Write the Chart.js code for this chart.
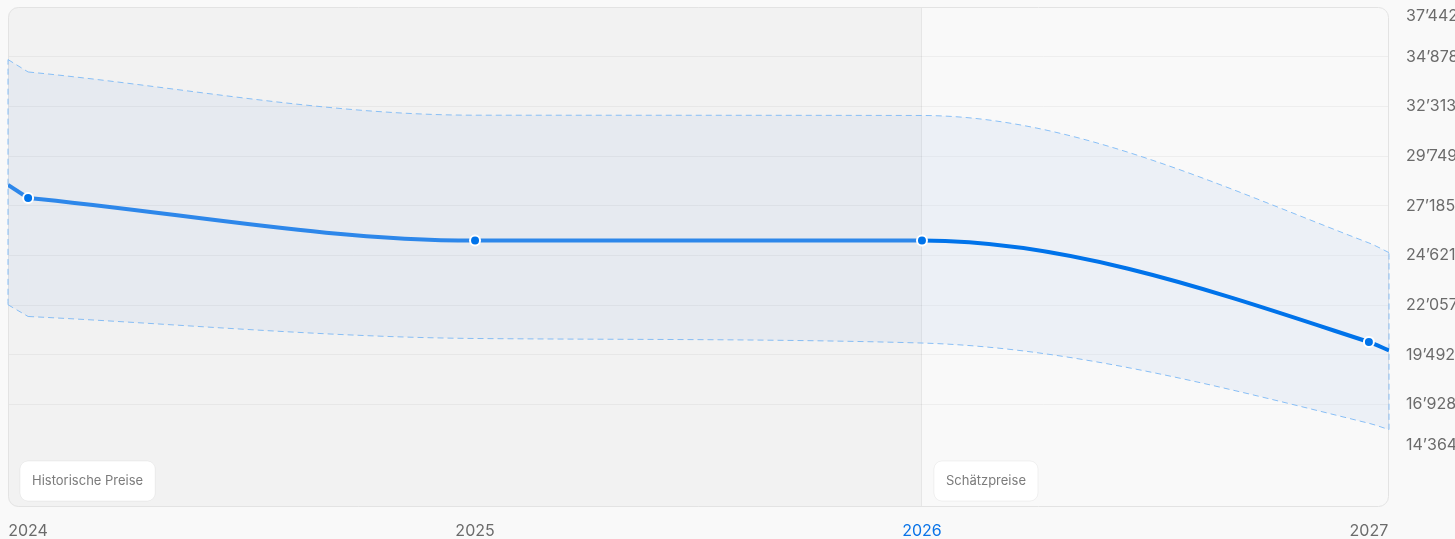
<!DOCTYPE html>
<html lang="de">
<head>
<meta charset="utf-8">
<title>Preisentwicklung</title>
<script src="https://cdn.jsdelivr.net/npm/chart.js@4.4.1/dist/chart.umd.min.js"></script>
<style>
  html, body { margin: 0; padding: 0; background: #f9f9f9; }
  #wrap { width: 1455px; height: 539px; }
</style>
</head>
<body>
<div id="wrap"><canvas id="preisChart"></canvas></div>
<script>
// ------------------ Daten ------------------
const jahre = [2024, 2025, 2026, 2027];                 // x-Achse
const preis = [27590, 25390, 25390, 20160];             // Preis je Jahr
const bandOben = [34090, 31860, 31845, 25270];          // obere Grenze Schätzband
const bandUnten = [21475, 20340, 20105, 15965];         // untere Grenze Schätzband

// Ränder der x-Achse und wo die Kurven dort enden
const randJahre = [2023.955, 2027.045];
const preisRand = [28260, 19720];
const obenRand = [34730, 24770];
const untenRand = [22080, 15640];

// y-Achse
const yTicks = [14364, 16928, 19492, 22057, 24621, 27185, 29749, 32313, 34878, 37442];
const yMin = 11646;

const prognoseAb = 2026;
const bereichTexte = ['Historische Preise', 'Schätzpreise'];

// ------------------ Hilfsfunktionen ------------------
const punkte = (xs, ys) => xs.map((x, i) => ({ x: x, y: ys[i] }));
const tausender = v => String(v).replace(/\B(?=(\d{3})+(?!\d))/g, '\u2019');

const blauHist = '#2d87ea';
const blauProg = '#0073ea';
const strichFarbe = '#88bff6';
const bandFarbe = 'rgba(140, 172, 225, 0.11)';

const gestrichelt = {
    borderColor: strichFarbe,
    borderWidth: 1,
    borderDash: [6, 4],
    pointRadius: 0,
    cubicInterpolationMode: 'monotone'
};

// Hintergrund, Rahmen und Bereichs-Beschriftungen
const hintergrund = {
    id: 'hintergrund',
    beforeDraw(chart) {
        const { ctx, chartArea: a, scales: { x } } = chart;
        const xp = x.getPixelForValue(prognoseAb);
        ctx.save();
        ctx.beginPath();
        ctx.roundRect(a.left, a.top, a.right - a.left, a.bottom - a.top, 10);
        ctx.clip();
        ctx.fillStyle = '#f2f2f2';
        ctx.fillRect(a.left, a.top, xp - a.left, a.bottom - a.top);
        ctx.restore();
    },
    beforeDatasetsDraw(chart) {
        const { ctx, chartArea: a } = chart;
        ctx.save();
        ctx.strokeStyle = '#e3e3e3';
        ctx.lineWidth = 1;
        ctx.beginPath();
        ctx.roundRect(a.left + 0.5, a.top + 0.5, a.right - a.left - 1, a.bottom - a.top - 1, 10);
        ctx.stroke();
        ctx.restore();
    },
    afterDraw(chart) {
        const { ctx, chartArea: a, scales: { x } } = chart;
        const starts = [a.left, x.getPixelForValue(prognoseAb)];
        ctx.save();
        ctx.font = '13px Inter';
        ctx.textBaseline = 'middle';
        bereichTexte.forEach((t, i) => {
            const w = ctx.measureText(t).width + 24;
            const bx = starts[i] + 12, by = a.bottom - 46;
            ctx.beginPath();
            ctx.roundRect(bx, by, w, 40, 8);
            ctx.fillStyle = '#ffffff';
            ctx.fill();
            ctx.strokeStyle = 'rgba(0, 0, 0, 0.05)';
            ctx.stroke();
            ctx.fillStyle = '#7b7b7b';
            ctx.fillText(t, bx + 12, by + 20.5);
        });
        ctx.restore();
    }
};

// ------------------ Grafik ------------------
new Chart(document.getElementById('preisChart').getContext('2d'), {
    type: 'line',
    data: {
        datasets: [
            { // Preislinie
                data: punkte([...jahre, randJahre[1]], [...preis, preisRand[1]]),
                borderColor: blauHist,
                borderWidth: 4,
                cubicInterpolationMode: 'monotone',
                segment: {
                    borderColor: c => c.p0.parsed.x >= prognoseAb ? blauProg : blauHist
                },
                pointRadius: c => c.dataIndex < jahre.length ? 5 : 0,
                pointBackgroundColor: blauProg,
                pointBorderColor: '#ffffff',
                pointBorderWidth: 2
            },
            { // Preislinie bis zum linken Rand
                data: punkte([randJahre[0], jahre[0]], [preisRand[0], preis[0]]),
                borderColor: blauHist,
                borderWidth: 4,
                pointRadius: 0
            },
            { ...gestrichelt, data: punkte([...jahre, randJahre[1]], [...bandOben, obenRand[1]]),
              fill: { target: 3 }, backgroundColor: bandFarbe },
            { ...gestrichelt, data: punkte([...jahre, randJahre[1]], [...bandUnten, untenRand[1]]) },
            { ...gestrichelt, data: punkte([randJahre[0], jahre[0]], [obenRand[0], bandOben[0]]),
              fill: { target: 5 }, backgroundColor: bandFarbe },
            { ...gestrichelt, data: punkte([randJahre[0], jahre[0]], [untenRand[0], bandUnten[0]]) },
            { ...gestrichelt, clip: false, data: punkte([randJahre[0], randJahre[0]], [untenRand[0], obenRand[0]]) },
            { ...gestrichelt, clip: false, data: punkte([randJahre[1], randJahre[1]], [untenRand[1], obenRand[1]]) }
        ]
    },
    options: {
        responsive: true,
        maintainAspectRatio: false,
        animation: false,
        events: [],
        layout: { padding: { top: 6, left: 8, right: 0, bottom: 0 } },
        plugins: {
            legend: { display: false },
            tooltip: { enabled: false }
        },
        scales: {
            x: {
                type: 'linear',
                min: randJahre[0],
                max: randJahre[1],
                afterBuildTicks: s => { s.ticks = jahre.map(v => ({ value: v })); },
                afterFit: s => { s.height = 32; s.paddingLeft = 0; s.paddingRight = 0; },
                border: { display: false },
                grid: {
                    drawTicks: false,
                    color: c => c.tick && c.tick.value === prognoseAb ? 'rgba(0, 0, 0, 0.05)' : 'transparent'
                },
                ticks: {
                    autoSkip: false,
                    maxRotation: 0,
                    padding: 15,
                    font: { family: 'Inter', size: 16 },
                    color: c => c.tick && c.tick.value === prognoseAb ? '#0a74e8' : '#6b6b6b',
                    callback: v => String(v)
                }
            },
            y: {
                type: 'linear',
                position: 'right',
                min: yMin,
                max: yTicks[yTicks.length - 1],
                afterBuildTicks: s => { s.ticks = yTicks.map(v => ({ value: v })); },
                afterFit: s => { s.width = 66; s.paddingTop = 0; s.paddingBottom = 0; },
                border: { display: false },
                grid: {
                    drawTicks: false,
                    color: c => (c.index === 0 || c.index === yTicks.length - 1) ? 'transparent' : 'rgba(0, 0, 0, 0.045)'
                },
                ticks: {
                    padding: 17,
                    font: { family: 'Inter', size: 16 },
                    color: '#6b6b6b',
                    callback: (v, i) => {
                        const t = tausender(v);
                        if (i === 0) return [t, ''];
                        if (i === yTicks.length - 1) return ['', t];
                        return t;
                    }
                }
            }
        }
    },
    plugins: [hintergrund]
});
</script>
</body>
</html>
